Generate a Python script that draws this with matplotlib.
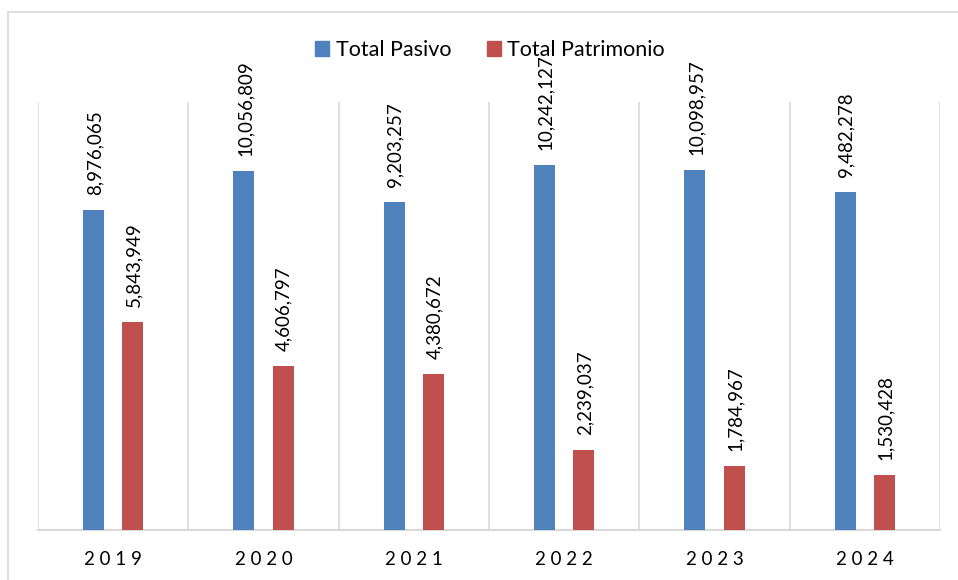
import matplotlib.pyplot as plt
import numpy as np
from matplotlib.patches import Patch
from matplotlib.lines import Line2D

# data
years = ['2019', '2020', '2021', '2022', '2023', '2024']
total_pasivo = [8976065, 10056809, 9203257, 10242127, 10098957, 9482278]
total_patrimonio = [5843949, 4606797, 4380672, 2239037, 1784967, 1530428]

blue = '#4f81bd'
red = '#c0504d'
grid_col = '#d9d9d9'

fig = plt.figure(figsize=(9.58, 5.8), dpi=100)
ax = fig.add_axes([38 / 958, 1 - 530 / 580, (940 - 38) / 958, (530 - 102) / 580])

x = np.arange(len(years))
w = 0.14
off = 0.13
b1 = ax.bar(x - off, total_pasivo, w, color=blue, zorder=3)
b2 = ax.bar(x + off, total_patrimonio, w, color=red, zorder=3)

for bars in (b1, b2):
    for bar in bars:
        h = bar.get_height()
        ax.annotate(f'{int(h):,}', (bar.get_x() + bar.get_width() / 2, h),
                    xytext=(1, 15), textcoords='offset pixels',
                    rotation=90, ha='center', va='bottom',
                    fontsize=13.5, family='Lato', color='#000000',
                    clip_on=False, zorder=5)

ax.set_xlim(-0.5, len(years) - 0.5)
ax.set_ylim(0, 12000000)

# vertical separators between categories
for xv in np.arange(-0.5, len(years), 1.0):
    ax.axvline(xv, color=grid_col, lw=1.2, zorder=1)

for s in ['top', 'right', 'left']:
    ax.spines[s].set_visible(False)
ax.spines['bottom'].set_color(grid_col)
ax.spines['bottom'].set_linewidth(1.5)
ax.set_yticks([])
ax.set_xticks(x)
ax.set_xticklabels([' '.join(y) for y in years], family='Lato', fontsize=13.5)
ax.tick_params(axis='x', length=0, pad=15)

# outer chart border (partly cut off in the reference)
fig.add_artist(Line2D([8 / 958, 8 / 958], [0, 1 - 12 / 580], transform=fig.transFigure,
                      color=grid_col, lw=1.2))
fig.add_artist(Line2D([8 / 958, 1], [1 - 12 / 580, 1 - 12 / 580], transform=fig.transFigure,
                      color=grid_col, lw=1.2))

handles = [Patch(color=blue, label='Total Pasivo'), Patch(color=red, label='Total Patrimonio')]
fig.legend(handles=handles, loc='center', bbox_to_anchor=(490 / 958, 1 - 50 / 580),
           ncol=2, frameon=False, handlelength=0.65, handleheight=0.65,
           handletextpad=0.3, columnspacing=1.65, borderpad=0,
           prop={'family': 'Lato', 'size': 15.5})

fig.savefig('out.png', dpi=100)
